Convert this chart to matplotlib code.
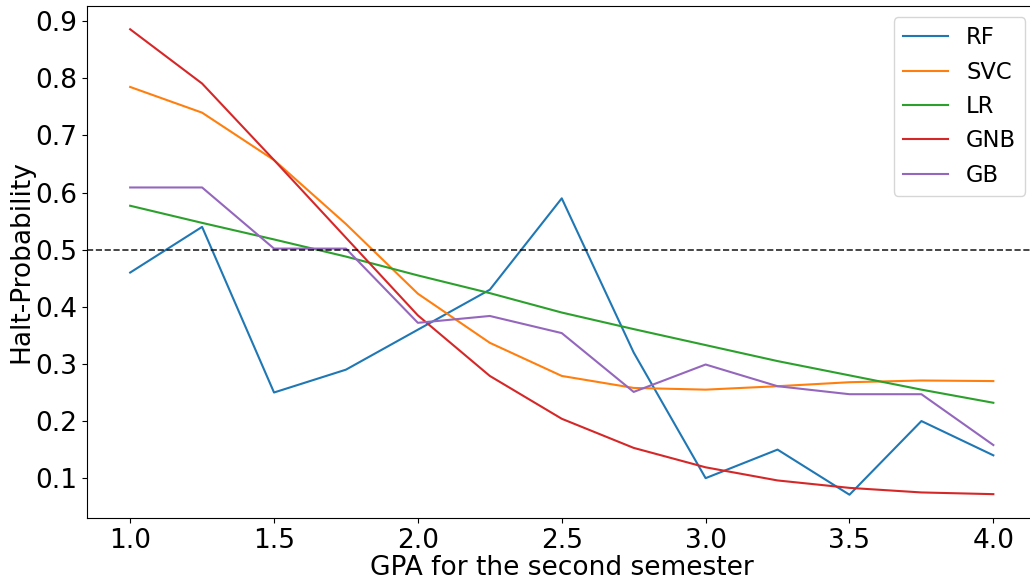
import matplotlib
matplotlib.use('Agg')
import matplotlib.pyplot as plt

gpa = [1.0, 1.25, 1.5, 1.75, 2.0, 2.25, 2.5, 2.75, 3.0, 3.25, 3.5, 3.75, 4.0]

rf = [0.46, 0.54, 0.25, 0.29, 0.36, 0.43, 0.59, 0.32, 0.10, 0.15, 0.071, 0.20, 0.14]
svc = [0.785, 0.74, 0.657, 0.545, 0.423, 0.337, 0.279, 0.258, 0.255, 0.261, 0.268, 0.271, 0.270]
lr = [0.577, 0.547, 0.518, 0.488, 0.455, 0.424, 0.390, 0.361, 0.333, 0.305, 0.280, 0.255, 0.232]
gnb = [0.886, 0.791, 0.657, 0.521, 0.385, 0.279, 0.204, 0.153, 0.119, 0.096, 0.083, 0.075, 0.072]
gb = [0.609, 0.609, 0.502, 0.502, 0.372, 0.384, 0.354, 0.251, 0.299, 0.261, 0.247, 0.247, 0.158]

fig = plt.figure(figsize=(10.30, 5.82), dpi=100)
ax = fig.add_axes([87 / 1030, 1 - 518 / 582, (1036.5 - 87) / 1030, (518 - 6) / 582])

ax.plot(gpa, rf, label='RF')
ax.plot(gpa, svc, label='SVC')
ax.plot(gpa, lr, label='LR')
ax.plot(gpa, gnb, label='GNB')
ax.plot(gpa, gb, label='GB')
ax.axhline(0.5, color='k', linestyle='--', linewidth=1.2, alpha=0.85)

ax.set_xlabel('GPA for the second semester', fontsize=19, labelpad=1)
ax.set_ylabel('Halt-Probability', fontsize=19, labelpad=1)
ax.tick_params(labelsize=19)
ax.legend(loc='upper right', fontsize=16.3)

fig.savefig('out.png', dpi=100)
